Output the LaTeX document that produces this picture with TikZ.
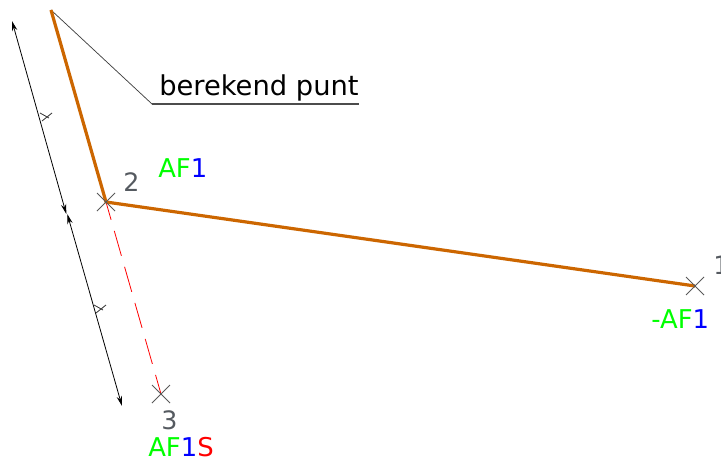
\documentclass[tikz,border=0pt]{standalone}
\usepackage{fontspec}
\setmainfont{DejaVu Sans}
\usetikzlibrary{arrows.meta}
\definecolor{wire}{HTML}{CC6600}
\definecolor{lbl}{HTML}{555A60}
\definecolor{agreen}{HTML}{00FF00}
\tikzset{
  x=0.75pt,y=-0.75pt,
  wirel/.style={draw=wire,line width=2.4pt},
  thin line/.style={draw=black!75,line width=0.55pt},
  dimline/.style={draw=black,line width=0.6pt,{Stealth[length=7.5pt,width=4pt]}-{Stealth[length=7.5pt,width=4pt]}},
  tickmark/.style={draw=black!80,line width=0.6pt},
  reddash/.style={draw=red,line width=0.6pt,dash pattern=on 19.5pt off 8.6pt,dash phase=5.6pt},
  crossmark/.style={draw=black!65,line width=0.55pt},
  ticklbl/.style={inner sep=0pt,font=\fontsize{19.4pt}{20pt}\selectfont,anchor=base west},
  numlbl/.style={inner sep=0pt,font=\fontsize{19pt}{20pt}\selectfont,text=lbl,anchor=base west}
}
\begin{document}
\begin{tikzpicture}
\useasboundingbox (0,0) rectangle (721,460);
\coordinate (top) at (51,10);
\coordinate (p2) at (106,202);
\coordinate (p1) at (695,286);
\coordinate (p3) at (161,394);
\coordinate (knee) at (152,104);
\coordinate (ldend) at (359,104);
\coordinate (d1) at (12,21);
\coordinate (d2) at (66.3,214);
\coordinate (d3) at (67.3,214);
\coordinate (d4) at (122,406);
% leader
\draw[thin line] (top) -- (knee);
\draw[draw=black!70,line width=0.8pt] (knee) -- (ldend);
\node[inner sep=0pt,anchor=base west,font=\fontsize{20.5pt}{22pt}\selectfont] (berek) at (159,95) {berekend punt};
% dimension
\draw[dimline] (d1) -- (d2);
\draw[dimline] (d3) -- (d4);
\draw[tickmark] (42,121) -- (52,113) (40,113) -- (49,118);
\draw[tickmark] (96,313) -- (106,305) (94,305) -- (103,310);
% red
\draw[reddash] (p2) -- (p3);
% walls
\draw[wirel,line join=round] (top) -- (p2) -- (p1);
% crosses
\foreach \c in {p1,p2,p3}{
  \draw[crossmark] ([shift={(-9,-9)}]\c) -- ([shift={(9,9)}]\c);
  \draw[crossmark] ([shift={(-9,9)}]\c) -- ([shift={(9,-9)}]\c);
}
% labels
\node[numlbl] (n2) at (123,191) {2};
\node[numlbl] (n1) at (713,274) {1};
\node[numlbl] (n3) at (161,429) {3};
\node[ticklbl] (af1) at (158,177) {\textcolor{agreen}{AF}\textcolor{blue}{1}};
\node[ticklbl] (maf1) at (651,328) {\textcolor{agreen}{-AF}\textcolor{blue}{1}};
\node[ticklbl] (af1s) at (148,456) {\textcolor{agreen}{AF}\textcolor{blue}{1}\textcolor{red}{S}};
\end{tikzpicture}
\end{document}
